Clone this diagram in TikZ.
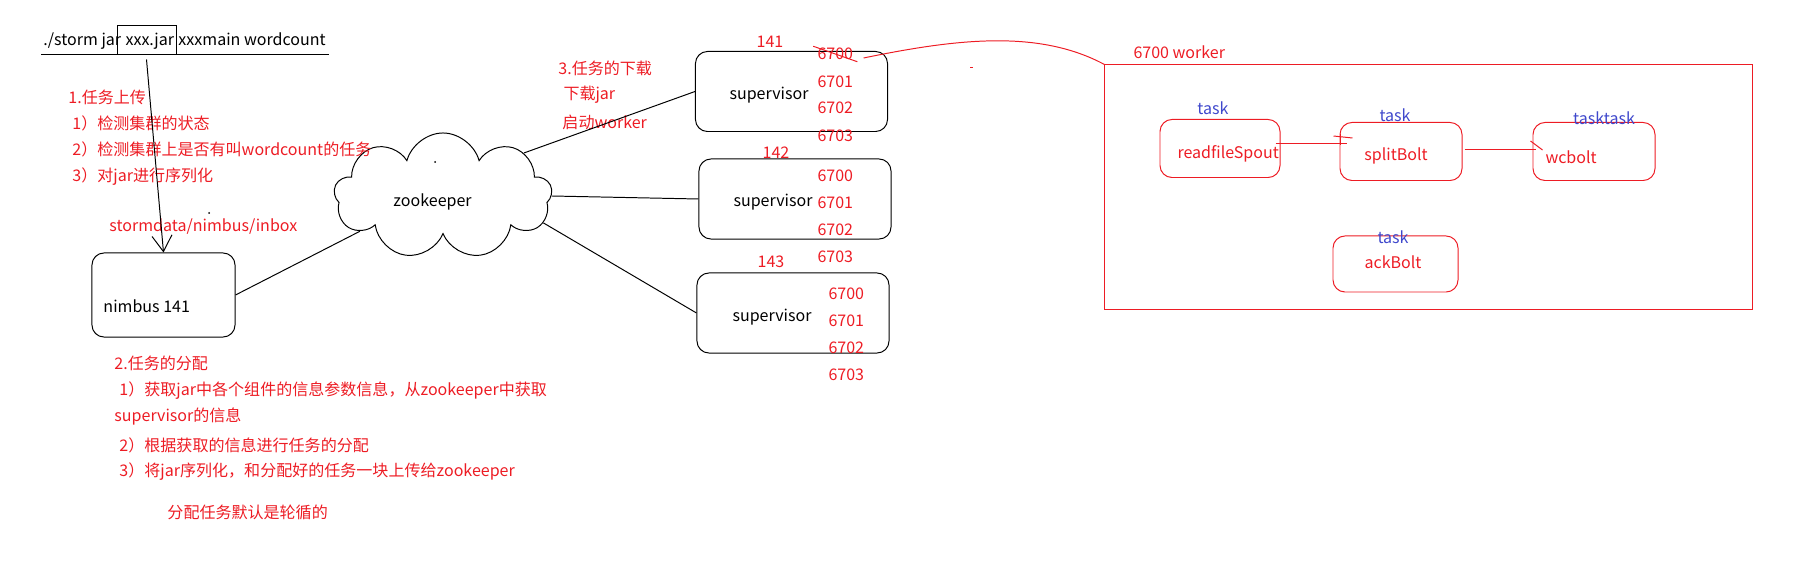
\documentclass[tikz,border=0pt]{standalone}
\usepackage{fontspec}
\setmainfont{Noto Sans CJK SC}
\usetikzlibrary{positioning}
\usetikzlibrary{shapes.symbols}
\usetikzlibrary{arrows.meta}
\definecolor{wred}{RGB}{237,28,36}
\definecolor{wblue}{RGB}{63,72,204}
\begin{document}
\begin{tikzpicture}[x=0.025cm,y=-0.025cm,line width=0.7pt,font=\fontsize{11.4}{14}\selectfont,
  txt/.style={anchor=west,inner sep=0},
  rd/.style={txt,text=wred},
  bl/.style={text=wblue,inner sep=0},
  supbox/.style={draw,rounded corners=0.3cm,minimum width=4.8cm,minimum height=2cm},
  taskbox/.style={draw=wred,rounded corners=0.3cm,minimum width=3.05cm,minimum height=1.45cm}]
\useasboundingbox (0,0) rectangle (1794,576);
  \node[txt,anchor=base west](cmd) at (43,46){./storm jar};
  \node[draw,anchor=base,inner ysep=0,inner xsep=0.05cm,text width=1.375cm,align=right,text height=0.5cm,text depth=0.2cm](jar) at (146.5,46){xxx.jar};
  \node[txt,anchor=base west](main) at (178,46){xxxmain wordcount};
  \coordinate (u1) at (41,54);
  \coordinate (u2) at (329,54);
  \node[supbox,minimum width=3.575cm,minimum height=2.1cm](nimbus) at (163.5,295){};
  \node[txt](nimbustxt) at (103,306){nimbus 141};
  \node[cloud,draw,cloud puffs=9,cloud ignores aspect,minimum width=5.45cm,minimum height=3.15cm,inner sep=0](zk) at (443,196){};
  \node[txt](zktxt) at (393,202){zookeeper};
  \node[supbox](sup1) at (791.5,91.5){};
  \node[supbox](sup2) at (795,199){};
  \node[supbox](sup3) at (793,313){};
  \node(st1) at (769,95){supervisor};
  \node(st2) at (773,202){supervisor};
  \node(st3) at (772,317){supervisor};
  \node[rd,anchor=center](h141) at (770,42){141};
  \node[rd,anchor=center](h142) at (776,153){142};
  \node[rd,anchor=center](h143) at (771,262){143};
  \node[rd](s1p0) at (817,54){6700};
  \node[rd](s1p1) at (817,82){6701};
  \node[rd](s1p2) at (817,108){6702};
  \node[rd](s1p3) at (817,136){6703};
  \node[rd](s2p0) at (817,176){6700};
  \node[rd](s2p1) at (817,203){6701};
  \node[rd](s2p2) at (817,230){6702};
  \node[rd](s2p3) at (817,257){6703};
  \node[rd](s3p0) at (828,294){6700};
  \node[rd](s3p1) at (828,321){6701};
  \node[rd](s3p2) at (828,348){6702};
  \node[rd](s3p3) at (828,375){6703};
  \node[rd](up0) at (68,97){1.任务上传};
  \node[rd](up1) at (72,123){1）检测集群的状态};
  \node[rd](up2) at (72,149){2）检测集群上是否有叫wordcount的任务};
  \node[rd](up3) at (72,177){3）对jar进行序列化};
  \node[rd](inbox) at (109,227){stormdata/nimbus/inbox};
  \node[rd](as0) at (114,363){2.任务的分配};
  \node[rd](as1) at (119,391){1）获取jar中各个组件的信息参数信息，从zookeeper中获取};
  \node[rd](as1b) at (114,417){supervisor的信息};
  \node[rd](as2) at (119,445){2）根据获取的信息进行任务的分配};
  \node[rd](as3) at (119,472){3）将jar序列化，和分配好的任务一块上传给zookeeper};
  \node[rd](as4) at (167,512){分配任务默认是轮循的};
  \node[rd](dl0) at (558,68){3.任务的下载};
  \node[rd](dl1) at (563,95){下载jar};
  \node[rd](dl2) at (562,122){启动worker};
  \node[draw=wred,minimum width=16.175cm,minimum height=6.1cm](worker) at (1428.5,187){};
  \node[rd](wlabel) at (1133,52){6700 worker};
  \node[taskbox,minimum width=3cm](spout) at (1220,148.5){};
  \node[taskbox](split) at (1401,151.5){};
  \node[taskbox](wc) at (1594,151.5){};
  \node[taskbox,minimum width=3.125cm,minimum height=1.4cm](ack) at (1395.5,264){};
  \node[rd](spouttxt) at (1177,154){readfileSpout};
  \node[rd,anchor=center](splittxt) at (1396,156){splitBolt};
  \node[rd](wctxt) at (1545,157){wcbolt};
  \node[rd,anchor=center](acktxt) at (1393,262){ackBolt};
  \node[bl](t1) at (1213,108){task};
  \node[bl](t2) at (1395,115){task};
  \node[bl](t3) at (1604,118){tasktask};
  \node[bl](t4) at (1393,237){task};
  \draw(u1)--(u2);
  \draw[-{Straight Barb[length=0.4cm,width=0.5cm]}]([shift={(0,5)}]jar.south)--(nimbus.north);
  \draw(nimbus.east)--(zk.203);
  \draw(zk.28)--(sup1.west);
  \draw(zk.0)--(sup2.west);
  \draw(zk.-15)--(sup3.west);
  \fill(209,213) circle (0.025cm);
  \fill(435,162) circle (0.025cm);
  \draw[wred,shorten <=-0.1cm,shorten >=-0.1cm](s1p0.north west)--(s1p0.south east);
  \draw[wred]([xshift=0.25cm,yshift=-0.1cm]s1p0.east) .. controls (960,38) and (1040,30) .. (worker.north west);
  \draw[wred](970,67)--(973,67);
  \draw[wred]([shift={(-5,-5.5)}]spout.east)--([shift={(7,-8.5)}]split.west);
  \draw[wred]([shift={(-6,-15.5)}]split.west)--([shift={(13,-13.5)}]split.west);
  \draw[wred]([shift={(1,-17.5)}]split.west)--([shift={(1,-6.5)}]split.west);
  \draw[wred]([shift={(2,-2.5)}]split.east)--([shift={(3,-2.5)}]wc.west);
  \draw[wred]([shift={(-2,-10.5)}]wc.west)--([shift={(10,-1.5)}]wc.west);
\end{tikzpicture}
\end{document}
